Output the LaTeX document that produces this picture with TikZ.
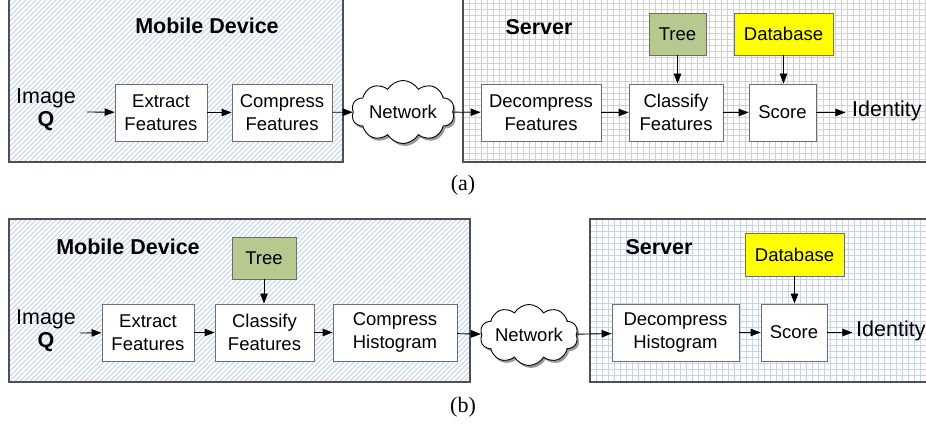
\documentclass[tikz,border=0pt]{standalone}
\usepackage{fontspec}
\setmainfont{Liberation Sans}
\newfontfamily\capfont{Liberation Serif}
\usetikzlibrary{arrows.meta,shapes.symbols,shadows}

\definecolor{hatchblue}{RGB}{190,208,236}
\definecolor{gridblue}{RGB}{196,212,240}
\definecolor{boxline}{RGB}{110,110,110}
\definecolor{treegreen}{RGB}{182,202,143}
\definecolor{dbyellow}{RGB}{255,255,0}
\definecolor{panelline}{RGB}{80,80,80}

\tikzset{
  txt/.style={font=\fontsize{18.5}{22.5}\selectfont, align=center},
  stagebox/.style={txt, draw=boxline, line width=0.9pt, fill=white, inner sep=0pt},
  treebox/.style={stagebox, fill=treegreen},
  dbbox/.style={stagebox, fill=dbyellow},
  cloudnode/.style={txt, cloud, cloud puffs=10, cloud puff arc=120, cloud ignores aspect,
    draw=black, line width=0.9pt, fill=white, inner sep=0pt,
    drop shadow={shadow xshift=2pt, shadow yshift=-2.5pt, opacity=0.4, fill=black}},
  paneltitle/.style={font=\fontsize{21.5}{24}\selectfont\bfseries},
  bigtxt/.style={font=\fontsize{21.5}{24}\selectfont, align=center, inner sep=0pt},
  caption/.style={font=\capfont\fontsize{22}{24}\selectfont},
  flow/.style={-{Triangle[length=10pt,width=7.5pt]}, line width=0.9pt, black},
  panel/.style={draw=panelline, line width=1.1pt}
}

% panel backgrounds: hatched device area, gridded server area
\newcommand{\hatchpanel}[4]{%
  \begin{scope}
    \clip (#1,#2) rectangle (#3,#4);
    \fill[white] (#1,#2) rectangle (#3,#4);
    \foreach \k in {-200,-195,...,700}
      \draw[hatchblue, line width=1pt] (#1+\k,#4) -- ++(200,-200);
  \end{scope}
  \draw[panel] (#1,#2) rectangle (#3,#4);}
\newcommand{\gridpanel}[4]{%
  \begin{scope}
    \clip (#1,#2) rectangle (#3,#4);
    \fill[white] (#1,#2) rectangle (#3,#4);
    \foreach \k in {0,6,...,480}
      \draw[gridblue, line width=0.8pt] (#1+\k,#2) -- (#1+\k,#4);
    \foreach \k in {0,6,...,180}
      \draw[gridblue, line width=0.8pt] (#1,#2+\k) -- (#3,#2+\k);
  \end{scope}
  \draw[panel] (#1,#2) rectangle (#3,#4);}

\begin{document}
\begin{tikzpicture}[x=1pt, y=-1pt]
\useasboundingbox (0,0) rectangle (926,427);

\hatchpanel{9}{-3}{343}{162}
\gridpanel{463}{-3}{932}{162}
\hatchpanel{9}{219}{470}{382}
\gridpanel{590}{219}{932}{382}

% ================= (a) =================
\node[paneltitle] (mdA) at (207,26) {Mobile Device};
\node[paneltitle] (svA) at (539,27) {Server};

\node[bigtxt] (imgA) at (46,110) {Image\\[-1pt]\textbf{Q}};
\coordinate (inA) at (87,112);

\node[stagebox, minimum width=92pt, minimum height=57pt] (extA) at (161,112.5) {Extract\\Features};
\node[stagebox, minimum width=100pt, minimum height=57pt] (cmpA) at (282,112.5) {Compress\\Features};
\node[cloudnode, minimum width=103pt, minimum height=63pt] (netA) at (403,112) {Network};
\node[stagebox, minimum width=120pt, minimum height=57pt] (decA) at (541,112.5) {Decompress\\Features};
\node[stagebox, minimum width=94pt, minimum height=57pt] (clsA) at (676,112.5) {Classify\\Features};
\node[stagebox, minimum width=67pt, minimum height=57pt] (scrA) at (782.5,112.5) {Score};
\node[treebox, minimum width=57pt, minimum height=42pt] (treeA) at (677.5,34) {Tree};
\node[dbbox, minimum width=99pt, minimum height=42pt] (dbA) at (783.5,34) {Database};
\node[bigtxt, anchor=west] (idA) at (852,111) {Identity};

\draw[flow] (inA) -- (extA);
\draw[flow] (extA) -- (cmpA);
\draw[flow] (cmpA) -- (netA);
\draw[flow] (netA) -- (decA);
\draw[flow] (decA) -- (clsA);
\draw[flow] (clsA) -- (scrA);
\draw[flow] (scrA.east) -- ++(29,0);
\draw[flow] (treeA) -- (treeA |- clsA.north);
\draw[flow] (dbA) -- (dbA |- scrA.north);

\node[caption] (capA) at (463,185) {(a)};

% ================= (b) =================
\node[paneltitle] (mdB) at (128,247) {Mobile Device};
\node[paneltitle] (svB) at (659,247) {Server};

\node[bigtxt] (imgB) at (46,331) {Image\\[-1pt]\textbf{Q}};
\coordinate (inB) at (80,333);

\node[treebox, minimum width=64pt, minimum height=42pt] (treeB) at (264,258) {Tree};
\node[stagebox, minimum width=92pt, minimum height=57pt] (extB) at (148,332.5) {Extract\\Features};
\node[stagebox, minimum width=99pt, minimum height=57pt] (clsB) at (264.5,332.5) {Classify\\Features};
\node[stagebox, minimum width=124pt, minimum height=57pt] (cmpB) at (395,332.5) {Compress\\Histogram};
\node[cloudnode, minimum width=98pt, minimum height=61pt] (netB) at (529,335) {Network};
\node[stagebox, minimum width=127pt, minimum height=57pt] (decB) at (675.5,332.5) {Decompress\\Histogram};
\node[stagebox, minimum width=66pt, minimum height=57pt] (scrB) at (794,332.5) {Score};
\node[dbbox, minimum width=99pt, minimum height=43pt] (dbB) at (794.5,254.5) {Database};
\node[bigtxt, anchor=west] (idB) at (856,331) {Identity};

\draw[flow] (inB) -- (extB);
\draw[flow] (extB) -- (clsB);
\draw[flow] (clsB) -- (cmpB);
\draw[flow] (cmpB) -- (netB);
\draw[flow] (netB) -- (decB);
\draw[flow] (decB) -- (scrB);
\draw[flow] (scrB.east) -- ++(25,0);
\draw[flow] (treeB) -- (treeB |- clsB.north);
\draw[flow] (dbB) -- (dbB |- scrB.north);

\node[caption] (capB) at (463,407) {(b)};
\end{tikzpicture}
\end{document}
